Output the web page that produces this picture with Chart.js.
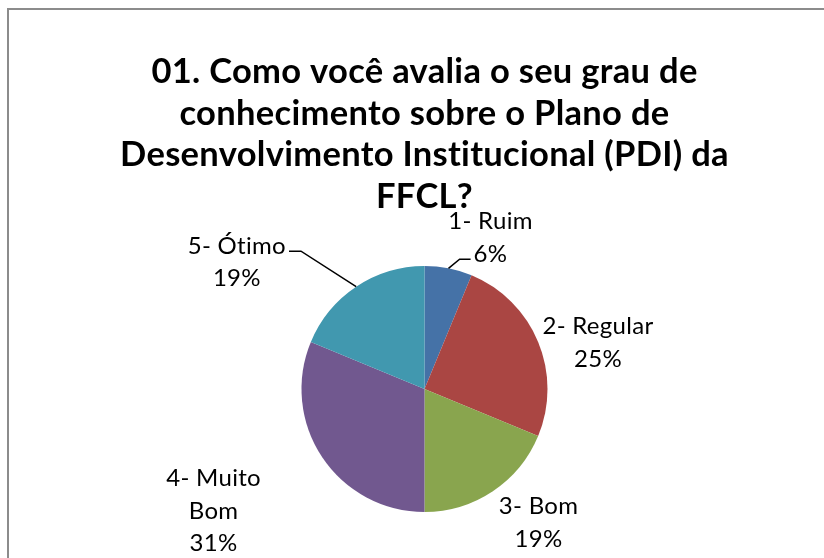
<!DOCTYPE html>
<html>
<head>
<meta charset="utf-8">
<title>Grau de conhecimento sobre o PDI</title>
<script src="https://cdn.jsdelivr.net/npm/chart.js@4.4.1/dist/chart.umd.min.js"></script>
<style>
  html, body { margin: 0; padding: 0; background: #ffffff; }
  canvas { display: block; }
</style>
</head>
<body>
<canvas id="chart" width="824" height="558"></canvas>
<script>
// Survey question and answers
const titleLines = [
  '01. Como você avalia o seu grau de',
  'conhecimento sobre o Plano de',
  'Desenvolvimento Institucional (PDI) da',
  'FFCL?'
];
const categories = ['1- Ruim', '2- Regular', '3- Bom', '4- Muito Bom', '5- Ótimo'];
const labelLines = [['1- Ruim'], ['2- Regular'], ['3- Bom'], ['4- Muito', 'Bom'], ['5- Ótimo']];
const responses = [1, 4, 3, 5, 3];
const sliceColors = ['#4572A7', '#AA4643', '#89A54E', '#71588F', '#4198AF'];

// Where each label block sits: polar angle (degrees, clockwise from 12 o'clock)
// and distance from the pie centre in multiples of the radius.
const labelSpots = [
  { angle: 23.6, dist: 1.34 },
  { angle: 75.0, dist: 1.46 },
  { angle: 139.6, dist: 1.43 },
  { angle: 240.0, dist: 1.98 },
  { angle: 304.0, dist: 1.84 }
];
// Leader lines: which text line they attach to and on which side of it
const leaders = [
  { line: 1, side: 'left' },
  null,
  null,
  null,
  { line: 0, side: 'right' }
];

const FONT = 'Lato, "Open Sans", "DejaVu Sans", sans-serif';

const frameAndTitle = {
  id: 'frameAndTitle',
  beforeDraw(chart) {
    const ctx = chart.ctx;
    ctx.save();
    ctx.fillStyle = '#ffffff';
    ctx.fillRect(0, 0, chart.width, chart.height);
    ctx.strokeStyle = '#8c8c8c';
    ctx.lineWidth = 2;
    ctx.strokeRect(8, 9, chart.width + 20, chart.height + 20);
    ctx.restore();
  },
  afterDraw(chart) {
    const ctx = chart.ctx;
    const meta = chart.getDatasetMeta(0);
    const total = responses.reduce((a, b) => a + b, 0);
    const cx = (chart.chartArea.left + chart.chartArea.right) / 2;
    ctx.save();
    // Title
    ctx.fillStyle = '#000000';
    ctx.font = 'bold 34.5px ' + FONT;
    ctx.letterSpacing = '0.3px';
    ctx.textAlign = 'center';
    ctx.textBaseline = 'middle';
    titleLines.forEach((t, i) => ctx.fillText(t, cx, 72 + i * 41.5));

    // Data labels with leader lines
    ctx.font = '24px ' + FONT;
    ctx.letterSpacing = '0.3px';
    const lh = 32.5;
    meta.data.forEach((arc, i) => {
      const p = arc.getProps(['x', 'y', 'startAngle', 'endAngle', 'outerRadius'], true);
      const pct = Math.round(responses[i] / total * 100) + '%';
      const lines = labelLines[i].concat([pct]);
      const spot = labelSpots[i];
      const a = spot.angle * Math.PI / 180;
      const bx = p.x + Math.sin(a) * p.outerRadius * spot.dist;
      const by = p.y - Math.cos(a) * p.outerRadius * spot.dist;
      const top = by - (lines.length - 1) * lh / 2;
      ctx.fillStyle = '#000000';
      ctx.textAlign = 'center';
      ctx.textBaseline = 'middle';
      lines.forEach((t, k) => ctx.fillText(t, bx, top + k * lh));

      const ld = leaders[i];
      if (ld) {
        const mid = (p.startAngle + p.endAngle) / 2;
        const sx = p.x + Math.cos(mid) * p.outerRadius;
        const sy = p.y + Math.sin(mid) * p.outerRadius;
        const w = ctx.measureText(lines[ld.line]).width;
        const ly = top + ld.line * lh + 5;
        const ex = ld.side === 'right' ? bx + w / 2 + 3 : bx - w / 2 - 3;
        const kx = ld.side === 'right' ? ex + 12 : ex - 11;
        ctx.strokeStyle = '#000000';
        ctx.lineWidth = 1.5;
        ctx.beginPath();
        ctx.moveTo(sx, sy);
        ctx.lineTo(kx, ly);
        ctx.lineTo(ex, ly);
        ctx.stroke();
      }
    });
    ctx.restore();
  }
};

new Chart(document.getElementById('chart'), {
  type: 'pie',
  data: {
    labels: categories,
    datasets: [{
      data: responses,
      backgroundColor: sliceColors,
      borderWidth: 0
    }]
  },
  options: {
    responsive: false,
    animation: false,
    layout: { padding: { left: 301, right: 276, top: 266, bottom: 46 } },
    plugins: {
      legend: { display: false },
      tooltip: { enabled: false },
      title: { display: false }
    }
  },
  plugins: [frameAndTitle]
});
</script>
</body>
</html>
